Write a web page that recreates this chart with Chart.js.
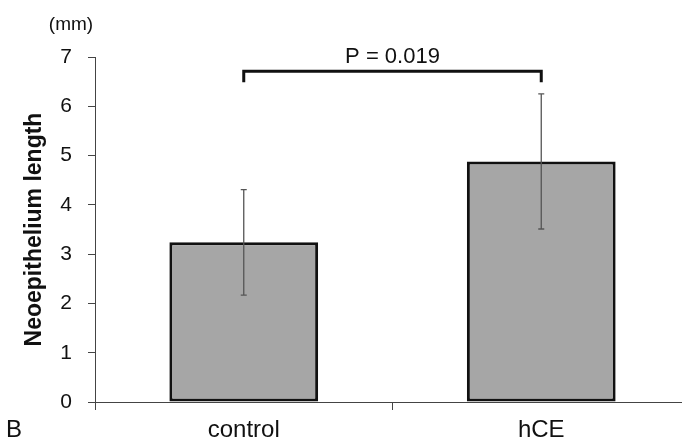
<!DOCTYPE html>
<html>
<head>
<meta charset="utf-8">
<script src="https://cdn.jsdelivr.net/npm/chart.js@4.4.1/dist/chart.umd.min.js"></script>
<style>
  html, body { margin: 0; padding: 0; background: #fff; overflow: hidden; }
  #wrap { width: 690px; height: 441px; }
</style>
</head>
<body>
<div id="wrap"><canvas id="chart" width="690" height="441"></canvas></div>
<script>
const groups = ['control', 'hCE'];
const means = [3.24, 4.88];
const sds = [1.07, 1.37];
const yTicks = [0, 1, 2, 3, 4, 5, 6, 7];
const pLabel = 'P = 0.019';
const bracketTop = 6.71;
const bracketFoot = 6.49;

const FONT = "'Liberation Sans', Arial, sans-serif";

const errorBars = {
  id: 'errorBars',
  afterDatasetsDraw(chart) {
    const { ctx, scales: { y } } = chart;
    const meta = chart.getDatasetMeta(0);
    ctx.save();
    ctx.strokeStyle = '#555';
    ctx.lineWidth = 1.3;
    meta.data.forEach((bar, i) => {
      const top = y.getPixelForValue(means[i] + sds[i]);
      const bot = y.getPixelForValue(means[i] - sds[i]);
      ctx.beginPath();
      ctx.moveTo(bar.x, top);
      ctx.lineTo(bar.x, bot);
      ctx.moveTo(bar.x - 3, top);
      ctx.lineTo(bar.x + 3, top);
      ctx.moveTo(bar.x - 3, bot);
      ctx.lineTo(bar.x + 3, bot);
      ctx.stroke();
    });
    ctx.restore();
  },
};

const annotations = {
  id: 'annotations',
  afterDraw(chart) {
    const { ctx, scales: { x, y } } = chart;
    const x0 = x.getPixelForValue(0);
    const x1 = x.getPixelForValue(1);
    const yTop = y.getPixelForValue(bracketTop);
    const yFoot = y.getPixelForValue(bracketFoot);
    ctx.save();
    ctx.strokeStyle = '#111';
    ctx.lineWidth = 3;
    ctx.beginPath();
    ctx.moveTo(x0, yFoot);
    ctx.lineTo(x0, yTop);
    ctx.lineTo(x1, yTop);
    ctx.lineTo(x1, yFoot);
    ctx.stroke();

    ctx.fillStyle = '#111';
    ctx.textAlign = 'center';
    ctx.textBaseline = 'middle';
    ctx.font = '22px ' + FONT;
    ctx.fillText(pLabel, (x0 + x1) / 2, yTop - 14);

    // unit label above the y axis
    ctx.font = '19px ' + FONT;
    ctx.fillText('(mm)', 71, 25);

    // panel letter
    ctx.textAlign = 'left';
    ctx.font = '24px ' + FONT;
    ctx.fillText('B', 6, 430);
    ctx.restore();
  },
};

new Chart(document.getElementById('chart'), {
  type: 'bar',
  data: {
    labels: groups,
    datasets: [{
      data: means,
      backgroundColor: '#a6a6a6',
      borderColor: '#111',
      borderWidth: 3,
      borderSkipped: false,
      barPercentage: 0.5,
      categoryPercentage: 1,
    }],
  },
  options: {
    responsive: false,
    animation: false,
    layout: { padding: { top: 57, right: 0, left: 0, bottom: 0 } },
    plugins: { legend: { display: false }, tooltip: { enabled: false } },
    scales: {
      x: {
        offset: true,
        grid: { display: true, offset: true, drawOnChartArea: false, drawTicks: true, tickLength: 8, color: '#444' },
        border: { display: true, color: '#444', width: 1 },
        ticks: { color: '#111', font: { family: FONT, size: 24 }, padding: 6 },
        afterFit: (s) => { s.height = 39; },
      },
      y: {
        min: 0,
        max: 7,
        afterBuildTicks: (s) => { s.ticks = yTicks.map((v) => ({ value: v })); },
        grid: { display: true, drawOnChartArea: false, drawTicks: true, tickLength: 7, color: '#444' },
        border: { display: true, color: '#444', width: 1 },
        ticks: { color: '#111', font: { family: FONT, size: 21 }, padding: 16 },
        title: {
          display: true,
          text: 'Neoepithelium length',
          color: '#111',
          font: { family: FONT, size: 23, weight: 'bold' },
          padding: { top: 21, bottom: 0 },
        },
        afterFit: (s) => { s.width = 95; },
      },
    },
  },
  plugins: [errorBars, annotations],
});
</script>
</body>
</html>
